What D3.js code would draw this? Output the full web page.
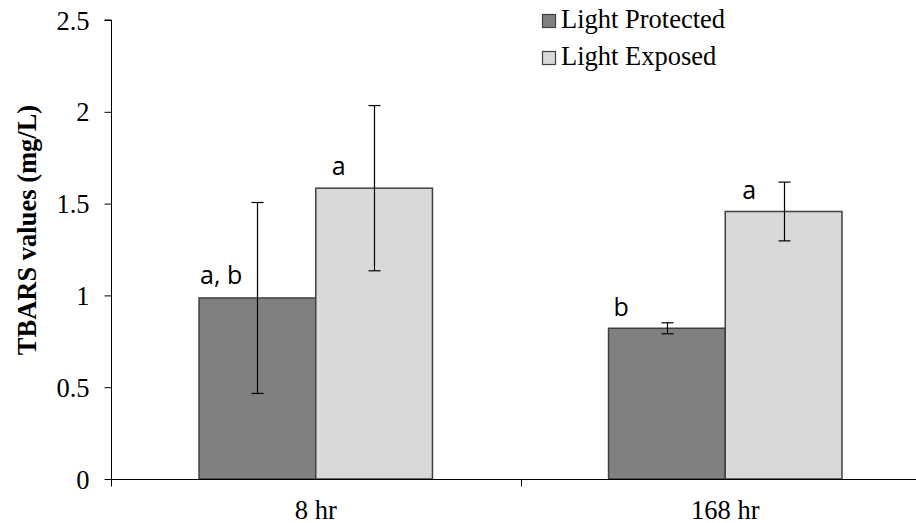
<!DOCTYPE html>
<html>
<head>
<meta charset="utf-8">
<script src="https://cdn.jsdelivr.net/npm/d3@7"></script>
<style>
  html, body { margin: 0; padding: 0; background: #fff; }
  svg { display: block; }
</style>
</head>
<body>
<svg id="chart" width="916" height="523"></svg>
<script>
// ---- data ----
const categories = ["8 hr", "168 hr"];
const seriesNames = ["Light Protected", "Light Exposed"];
const lightProtected = [0.986, 0.821];
const lightProtectedErr = [0.52, 0.03];
const lightExposed = [1.584, 1.457];
const lightExposedErr = [0.45, 0.16];
const sigLetters = [["a, b", "a"], ["b", "a"]]; // [category][series]
const yTicks = [0, 0.5, 1, 1.5, 2, 2.5];
const yLabel = "TBARS values (mg/L)";

// ---- style ----
const colors = ["#808080", "#d9d9d9"];
const serif = "Liberation Serif, Times New Roman, serif";
const sans = "Open Sans, Liberation Sans, sans-serif";
const serifSize = 26.5;
const labelOffsets = [[[1, -14], [16, -13]], [[5, -12], [17, -12]]];

const svg = d3.select("#chart");
const mLeft = 111, mBottom = 479, mTop = 20, mRight = 930;

const x = d3.scaleBand().domain(categories).range([mLeft, mRight]).padding(0);
const xs = d3.scaleBand().domain(seriesNames)
  .range([x.bandwidth() * 0.215, x.bandwidth() * 0.785]).padding(0);
const y = d3.scaleLinear().domain([0, 2.5]).range([mBottom, mTop]);

const values = [lightProtected, lightExposed];
const errs = [lightProtectedErr, lightExposedErr];

const rows = [];
categories.forEach((c, ci) => {
  seriesNames.forEach((s, si) => {
    rows.push({ c, ci, s, si, v: values[si][ci], e: errs[si][ci], lab: sigLetters[ci][si] });
  });
});

// bars
svg.append("g").selectAll("rect").data(rows).join("rect")
  .attr("x", d => x(d.c) + xs(d.s))
  .attr("y", d => y(d.v))
  .attr("width", xs.bandwidth())
  .attr("height", d => y(0) - y(d.v))
  .attr("fill", d => colors[d.si])
  .attr("stroke", "#404040")
  .attr("stroke-width", 1.5);

// error bars
const eg = svg.append("g").attr("stroke", "#000").attr("stroke-width", 1.2);
rows.forEach(d => {
  const cx = Math.round(x(d.c) + xs(d.s) + xs.bandwidth() / 2) + 0.5;
  eg.append("line").attr("x1", cx).attr("x2", cx).attr("y1", y(d.v + d.e)).attr("y2", y(d.v - d.e));
  [d.v + d.e, d.v - d.e].forEach(t => {
    eg.append("line").attr("x1", cx - 6).attr("x2", cx + 6).attr("y1", y(t)).attr("y2", y(t));
  });
});

// significance letters
svg.append("g").selectAll("text").data(rows).join("text")
  .attr("x", d => x(d.c) + xs(d.s) + labelOffsets[d.ci][d.si][0])
  .attr("y", d => y(d.v) + labelOffsets[d.ci][d.si][1])
  .style("font-family", sans)
  .style("font-size", "25px")
  .attr("fill", "#000")
  .text(d => d.lab);

// y axis
const yAxis = svg.append("g").attr("transform", `translate(${mLeft + 0.5},0)`)
  .call(d3.axisLeft(y).tickValues(yTicks).tickSize(7).tickPadding(15).tickFormat(d3.format("")));
yAxis.attr("font-family", null).attr("font-size", null);
yAxis.select(".domain").attr("stroke", "#000").attr("d", `M-7,${y(2.5)}H0V${y(0)}`);
yAxis.selectAll(".tick line").attr("stroke", "#000");
yAxis.selectAll("text").style("font-family", serif).style("font-size", serifSize + "px")
  .attr("fill", "#000").attr("dy", "0.34em");

// x axis
const xAxis = svg.append("g").attr("transform", `translate(0,${mBottom + 0.5})`);
xAxis.append("line").attr("x1", mLeft).attr("x2", mRight).attr("stroke", "#000");
const boundaries = categories.map(c => x(c)).concat([x(categories[categories.length - 1]) + x.bandwidth()]);
xAxis.selectAll(".xt").data(boundaries).join("line").attr("class", "xt")
  .attr("x1", d => Math.round(d) + 0.5).attr("x2", d => Math.round(d) + 0.5)
  .attr("y1", 0).attr("y2", 7).attr("stroke", "#000");
xAxis.selectAll(".xl").data(categories).join("text").attr("class", "xl")
  .attr("x", d => x(d) + x.bandwidth() / 2)
  .attr("y", 39)
  .attr("text-anchor", "middle")
  .style("font-family", serif).style("font-size", serifSize + "px").attr("fill", "#000")
  .text(d => d);

// y label
svg.append("text")
  .attr("transform", `translate(36,${(107 + 353) / 2}) rotate(-90)`)
  .attr("text-anchor", "middle")
  .style("font-family", serif).style("font-size", serifSize + "px").style("font-weight", "bold")
  .attr("fill", "#000")
  .text(yLabel);

// legend
const lg = svg.append("g").attr("transform", "translate(542,14)");
seriesNames.forEach((s, i) => {
  const g = lg.append("g").attr("transform", `translate(0,${i * 37})`);
  g.append("rect").attr("x", 0.5).attr("y", 0.5).attr("width", 13).attr("height", 13)
    .attr("fill", colors[i]).attr("stroke", "#404040").attr("stroke-width", 1.2);
  g.append("text").attr("x", 19).attr("y", 14)
    .style("font-family", serif).style("font-size", serifSize + "px").attr("fill", "#000")
    .text(s);
});
</script>
</body>
</html>
